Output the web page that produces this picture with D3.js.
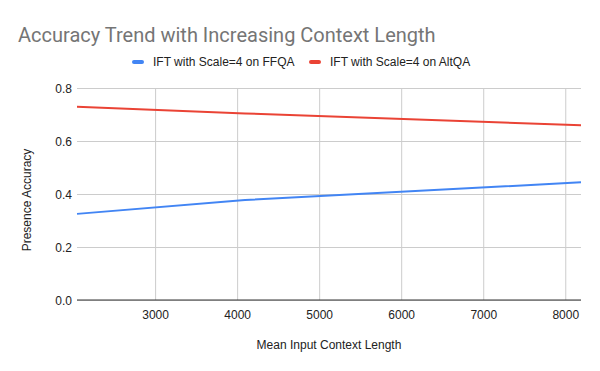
<!DOCTYPE html>
<html>
<head>
<meta charset="utf-8">
<script src="https://cdn.jsdelivr.net/npm/d3@7"></script>
<style>
  body { margin: 0; background: #fff; }
  text { font-family: "Liberation Sans", Arial, sans-serif; }
</style>
</head>
<body>
<svg width="600" height="371"></svg>
<script>
// context lengths and accuracy values
const contextLengths = [2048, 4096, 8192];
const ffqaAccuracy = [0.325, 0.377, 0.444];
const altqaAccuracy = [0.729, 0.704, 0.659];
const seriesNames = ['IFT with Scale=4 on FFQA', 'IFT with Scale=4 on AltQA'];
const seriesColors = ['#4285f4', '#ea4335'];
const xTicks = [3000, 4000, 5000, 6000, 7000, 8000];
const yTicks = [0, 0.2, 0.4, 0.6, 0.8];

const svg = d3.select('svg');
const width = +svg.attr('width');
const height = +svg.attr('height');

const margin = { top: 88, right: 19, bottom: 71, left: 77 };
const innerWidth = width - margin.left - margin.right;
const innerHeight = height - margin.top - margin.bottom;

const series = [ffqaAccuracy, altqaAccuracy].map((vals, i) => ({
  name: seriesNames[i],
  color: seriesColors[i],
  values: vals.map((v, j) => ({ x: contextLengths[j], y: v }))
}));

const xScale = d3.scaleLinear()
  .domain([2048, 8192])
  .range([0, innerWidth]);

const yScale = d3.scaleLinear()
  .domain([0, 0.8])
  .range([innerHeight, 0]);

const g = svg.append('g')
  .attr('transform', `translate(${margin.left},${margin.top})`);

// gridlines
const xAxisG = g.append('g')
  .attr('transform', `translate(0,${innerHeight})`)
  .call(d3.axisBottom(xScale).tickValues(xTicks).tickSize(-innerHeight).tickPadding(10).tickFormat(d3.format('d')));
xAxisG.select('.domain').remove();
xAxisG.selectAll('line').attr('stroke', '#cccccc');
xAxisG.selectAll('text').attr('fill', '#222').style('font-size', '12px');

const yAxisG = g.append('g')
  .call(d3.axisLeft(yScale).tickValues(yTicks).tickSize(-innerWidth).tickPadding(5).tickFormat(d3.format('.1f')));
yAxisG.select('.domain').remove();
yAxisG.selectAll('line').attr('stroke', '#cccccc');
yAxisG.selectAll('text').attr('fill', '#222').style('font-size', '12px').attr('dy', '0.35em');

// baseline
g.append('line')
  .attr('x1', 0).attr('x2', innerWidth)
  .attr('y1', yScale(0)).attr('y2', yScale(0))
  .attr('stroke', '#333').attr('stroke-width', 1);

const line = d3.line()
  .x(d => xScale(d.x))
  .y(d => yScale(d.y));

g.selectAll('.series').data(series)
  .enter().append('path')
    .attr('class', 'series')
    .attr('d', d => line(d.values))
    .attr('fill', 'none')
    .attr('stroke', d => d.color)
    .attr('stroke-width', 2);

// title
svg.append('text')
  .attr('x', 18)
  .attr('y', 42)
  .attr('fill', '#757575')
  .style('font-family', 'Roboto, sans-serif')
  .style('font-size', '20px')
  .text('Accuracy Trend with Increasing Context Length');

// legend
const legendX = [132, 309];
const legend = svg.selectAll('.legend').data(series)
  .enter().append('g')
    .attr('class', 'legend')
    .attr('transform', (d, i) => `translate(${legendX[i]},62)`);
legend.append('rect')
  .attr('x', 0).attr('y', -2)
  .attr('width', 12).attr('height', 4)
  .attr('rx', 2)
  .attr('fill', d => d.color);
legend.append('text')
  .attr('x', 21)
  .attr('y', 4)
  .attr('fill', '#222')
  .style('font-size', '12px')
  .text(d => d.name);

// axis labels
svg.append('text')
  .attr('x', margin.left + innerWidth / 2)
  .attr('y', 349)
  .attr('text-anchor', 'middle')
  .attr('fill', '#222')
  .style('font-size', '12px')
  .text('Mean Input Context Length');

svg.append('text')
  .attr('transform', 'translate(31,200) rotate(-90)')
  .attr('text-anchor', 'middle')
  .attr('fill', '#222')
  .style('font-size', '12px')
  .text('Presence Accuracy');
</script>
</body>
</html>
